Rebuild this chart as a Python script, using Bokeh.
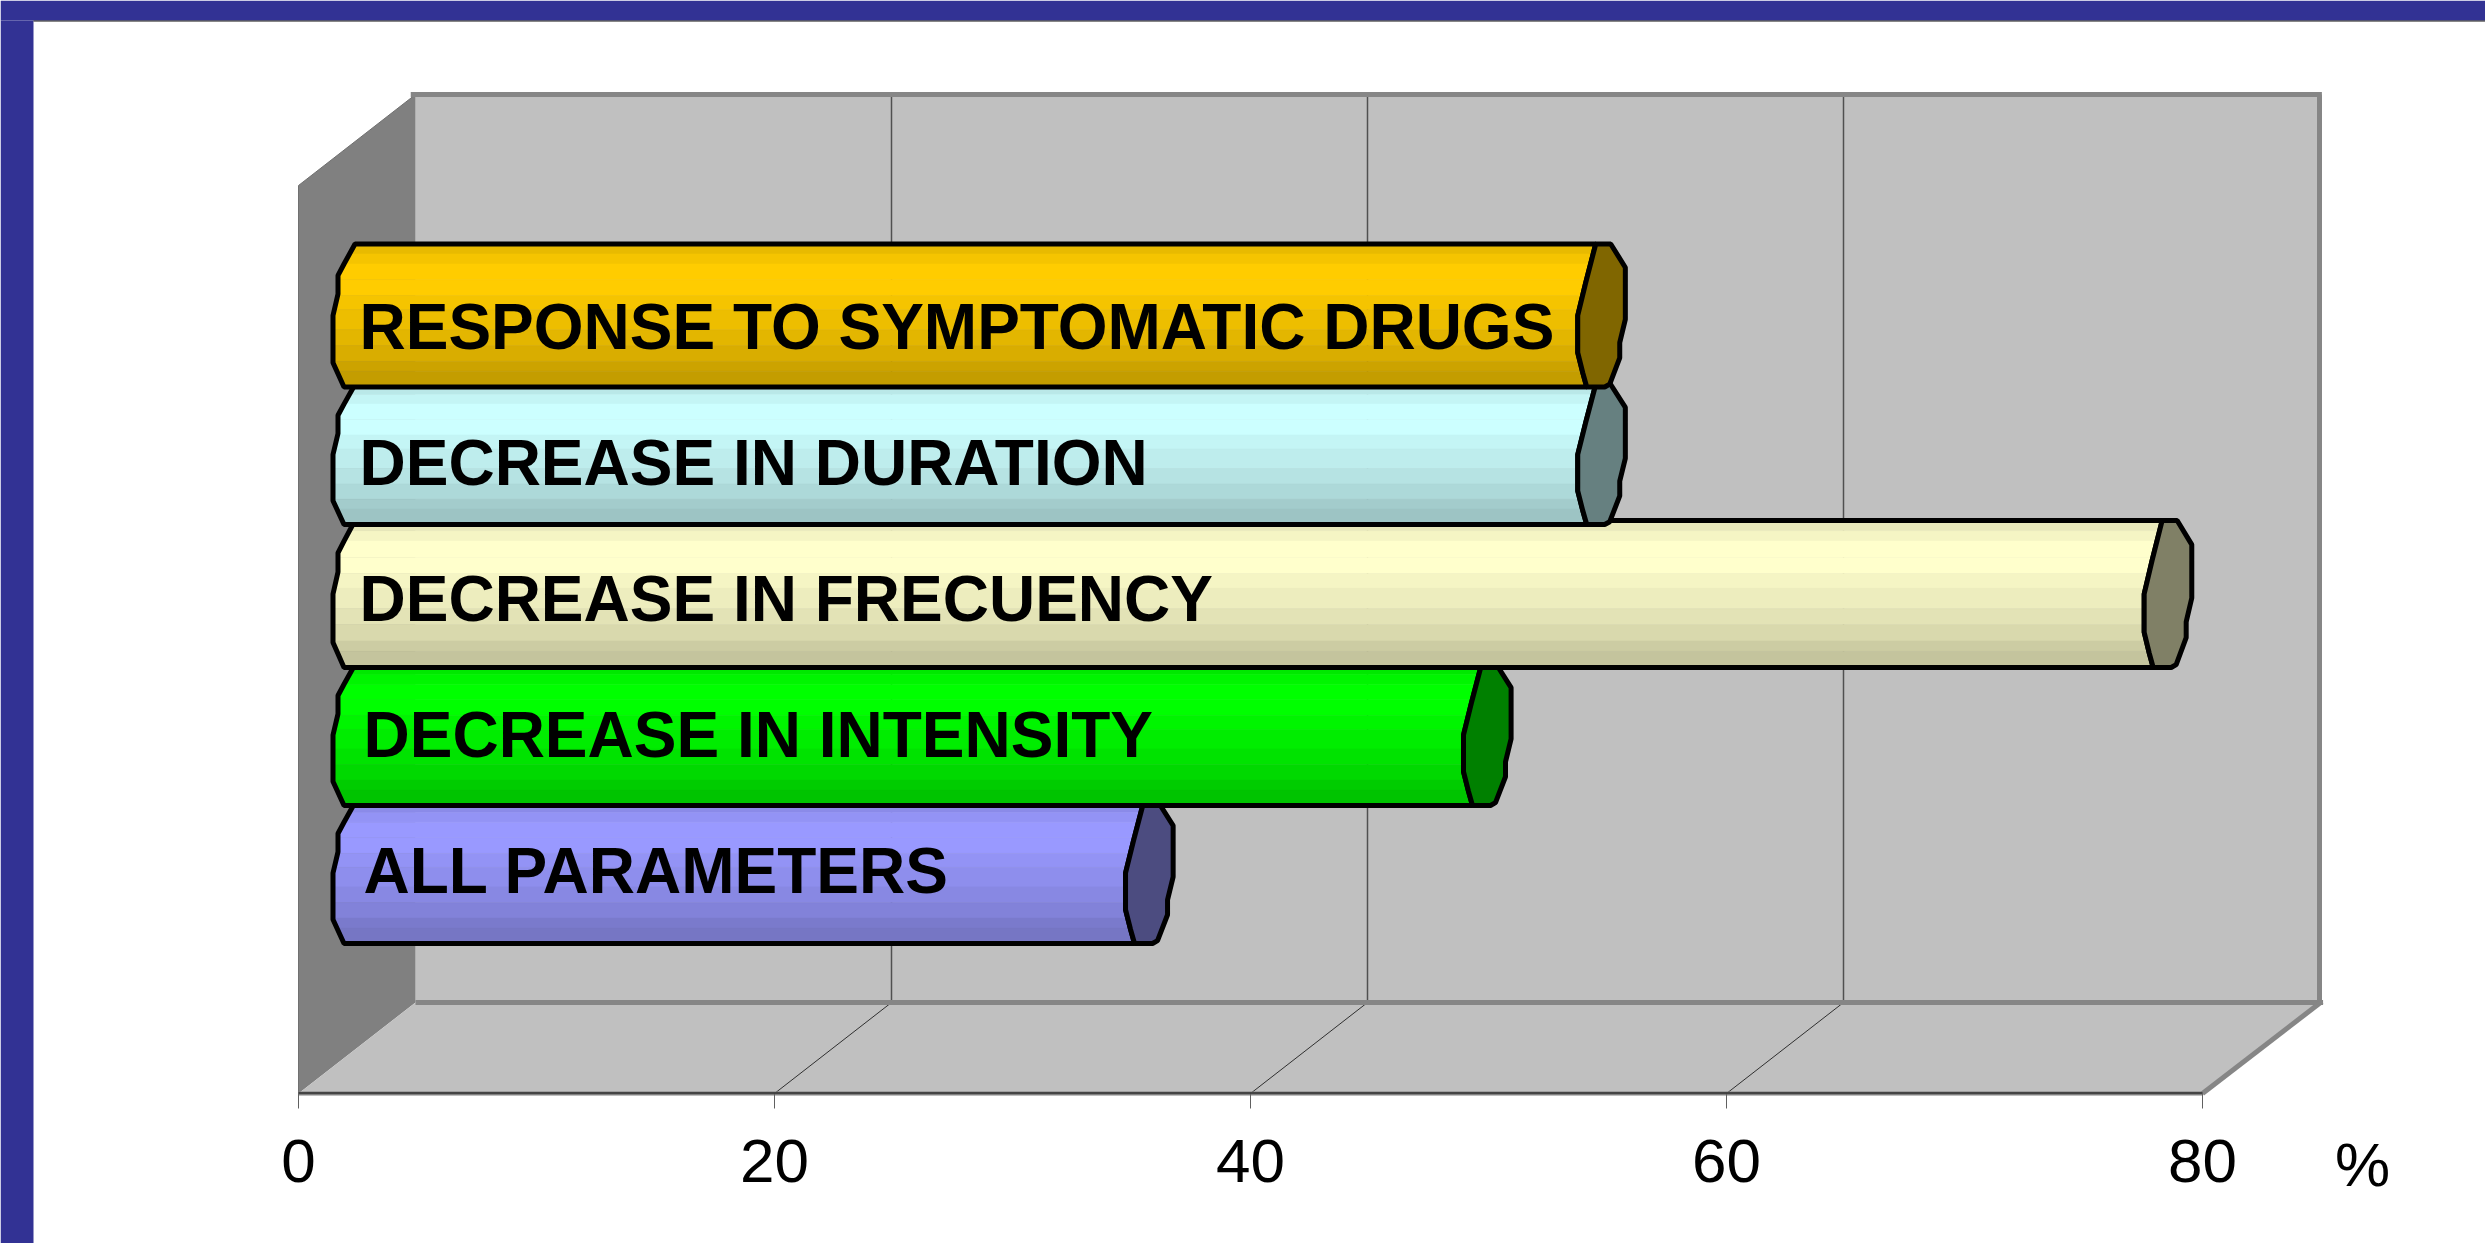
from bokeh.plotting import figure
from bokeh.models import Range1d, FixedTicker
from bokeh.core.properties import value
from bokeh.embed import file_html
from bokeh.resources import INLINE
import numpy as np

# ---- data
categories = ["RESPONSE TO SYMPTOMATIC DRUGS", "DECREASE IN DURATION", "DECREASE IN FRECUENCY",
              "DECREASE IN INTENSITY", "ALL PARAMETERS"]
percent = [52.3, 52.3, 76.1, 47.5, 33.3]
colors = ["#FFCC00", "#CCFFFF", "#FFFFCC", "#00FF00", "#9999FF"]
tick_values = [0, 20, 40, 60, 80]

# ---- layout (reference pixels)
X0, PX_PER_UNIT = 298.0, 23.8
W, H = 2485, 1243
FLOOR_FRONT, FLOOR_BACK, WALL_TOP = 1093, 1002, 94
DX = 117 / PX_PER_UNIT
bar_tops = [243.5, 384, 520, 664, 802]
bar_bottoms = [386.5, 524, 667, 805, 943]
text_x = [359, 359, 359, 363, 363]
text_mid = [326, 462, 598, 734, 870]
FONT = "Liberation Sans"
BLUE = "#323294"


def ux(px):
    return (px - X0) / PX_PER_UNIT


# outline profile of a cylinder end, in px from its centre against fraction of height
left_f, left_dx = [0, .14, .22, .35, .50, .83, 1], [-2, -13, -19, -19, -24, -24, -13]
end_f, end_dx = [0, .27, .50, .76, .90, 1], [-6, -16, -24, -24, -19, -15]
cap_f, cap_dx = [0, .164, .527, .69, .796, .98, 1], [9, 23.6, 23.6, 18, 18, 8, 3]
band_edges = [0, .07, .14, .25, .36, .46, .60, .71, .82, .89, 1]
band_gain = [.91, .96, 1, 1, .96, .93, .89, .85, .80, .77]

p = figure(width=W, height=H, output_backend="svg", toolbar_location=None,
           x_range=Range1d(ux(0), ux(W)), y_range=Range1d(H, 0),
           min_border=0, border_fill_color="white", background_fill_color="white", outline_line_color=None)
p.grid.visible = False
p.yaxis.visible = False

# ---- slide frame
p.quad(left=[ux(0), ux(0)], right=[ux(W), ux(33)], top=[0, 20], bottom=[20, H], color=BLUE, line_width=0)
p.line([ux(33), ux(W)], [20.5, 20.5], line_color="#111111", line_width=1)

# ---- 3D box
xa, xb = tick_values[0], tick_values[-1]
slant = FLOOR_FRONT - FLOOR_BACK
p.patch([xa + DX, xb + DX, xb + DX, xa + DX], [WALL_TOP, WALL_TOP, FLOOR_BACK, FLOOR_BACK], color="#C0C0C0", line_width=0)
p.patch([xa, xa + DX, xa + DX, xa], [FLOOR_FRONT, FLOOR_BACK, WALL_TOP, WALL_TOP + slant], color="#808080", line_width=0)
p.patch([xa, xa + DX, xb + DX, xb], [FLOOR_FRONT, FLOOR_BACK, FLOOR_BACK, FLOOR_FRONT], color="#C0C0C0", line_width=0)
gx = [t + DX for t in tick_values[1:-1]]
p.segment(gx, [WALL_TOP] * 3, gx, [FLOOR_BACK] * 3, line_color="#505050", line_width=1.5)
p.segment(tick_values[1:-1], [FLOOR_FRONT] * 3, gx, [FLOOR_BACK] * 3, line_color="#303030", line_width=1)
p.line([xa, xa + DX], [WALL_TOP + slant, WALL_TOP], line_color="#707070", line_width=1)
p.line([xa, xa], [FLOOR_FRONT, WALL_TOP + slant], line_color="#707070", line_width=1)
p.multi_line([[xa + DX - .2, xb + DX + .1], [xb + DX, xb + DX], [xa + DX, xb + DX + .15], [xb, xb + DX + .1]],
             [[WALL_TOP, WALL_TOP], [WALL_TOP, FLOOR_BACK], [FLOOR_BACK, FLOOR_BACK], [FLOOR_FRONT, FLOOR_BACK - 1]],
             line_color="#868686", line_width=5)
p.line([xa, xb], [FLOOR_FRONT - .5, FLOOR_FRONT - .5], line_color="#303030", line_width=1.5, level="overlay")


def shade(hexcol, g):
    return "#%02x%02x%02x" % tuple(int(round(int(hexcol[i:i + 2], 16) * g)) for i in (1, 3, 5))


# ---- cylinders, drawn from the bottom one up so upper ones overlap lower ones
for i in reversed(range(len(categories))):
    t, b = bar_tops[i], bar_bottoms[i]
    c0 = DX / 2
    c1 = c0 + percent[i]
    yy = lambda f: [t + (b - t) * q for q in f]
    xs, ys, cols = [], [], []
    for k, g in enumerate(band_gain):
        f0, f1 = band_edges[k], band_edges[k + 1]
        fs = sorted({f0, f1} | {q for q in left_f + end_f if f0 < q < f1})
        lx = c0 + np.interp(fs, left_f, left_dx) / PX_PER_UNIT
        rx = c1 + np.interp(fs, end_f, end_dx) / PX_PER_UNIT
        xs.append(list(lx) + list(rx[::-1]))
        ys.append(yy(fs) + yy(fs)[::-1])
        cols.append(shade(colors[i], g))
    p.patches(xs, ys, fill_color=cols, line_color=cols, line_width=.5)
    ox = [c0 + d / PX_PER_UNIT for d in left_dx] + [c1 + d / PX_PER_UNIT for d in end_dx[::-1]]
    oy = yy(left_f) + yy(end_f[::-1])
    p.patch(ox, oy, fill_color=None, line_color="black", line_width=5, line_join="bevel")
    cx = [c1 + d / PX_PER_UNIT for d in end_dx] + [c1 + d / PX_PER_UNIT for d in cap_dx[::-1]]
    cy = yy(end_f) + yy(cap_f[::-1])
    p.patch(cx, cy, fill_color=shade(colors[i], .5), line_color="black", line_width=5, line_join="bevel")

p.text(x=[ux(v) for v in text_x], y=text_mid, text=categories,
       text_font=value(FONT), text_font_style="bold", text_font_size="64px",
       text_color="black", text_baseline="middle", text_align="left")
p.text(x=[ux(2362)], y=[1164], text=["%"], text_font=value(FONT), text_font_size="62px",
       text_color="black", text_baseline="middle", text_align="center")

# ---- axis
ax = p.xaxis[0]
ax.fixed_location = FLOOR_FRONT
ax.ticker = FixedTicker(ticks=tick_values)
ax.bounds = (xa, xb)
ax.axis_line_color = "#808080"
ax.axis_line_width = 4
ax.major_tick_line_color = "#606060"
ax.major_tick_line_width = 1
ax.major_tick_out = 15
ax.major_tick_in = 0
ax.minor_tick_line_color = None
ax.major_label_text_font = FONT
ax.major_label_text_font_size = "62px"
ax.major_label_text_color = "black"
ax.major_label_standoff = 31

style = "<style>html,body{margin:0;overflow:hidden}</style>"
html = file_html(p, INLINE).replace("</head>", style + "</head>")
open("out.html", "w").write(html)
